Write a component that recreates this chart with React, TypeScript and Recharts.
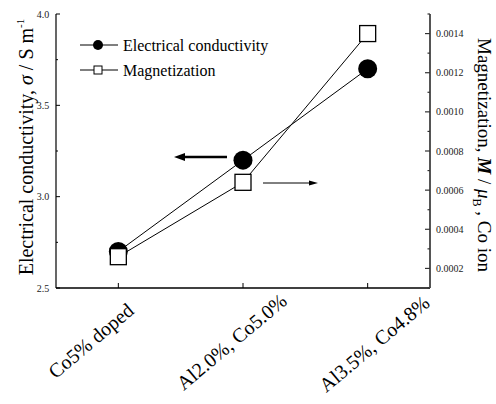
import { Legend, Line, LineChart, XAxis, YAxis } from "recharts";

const categories = ["Co5% doped", "Al2.0%, Co5.0%", "Al3.5%, Co4.8%"];
const conductivity = [2.7, 3.2, 3.7];
const magnetization = [0.00026, 0.00064, 0.0014];

const sigmaTicks = [2.5, 2.75, 3.0, 3.25, 3.5, 3.75, 4.0];
const sigmaLabels = [2.5, 3.0, 3.5, 4.0];
const magTicks = [
  0.0001, 0.0002, 0.0003, 0.0004, 0.0005, 0.0006, 0.0007, 0.0008,
  0.0009, 0.001, 0.0011, 0.0012, 0.0013, 0.0014, 0.0015
];
const magLabels = [0.0002, 0.0004, 0.0006, 0.0008, 0.001, 0.0012, 0.0014];

const data = categories.map((cat, i) => ({
  cat,
  sigma: conductivity[i],
  mag: magnetization[i]
}));

const FONT = '"Liberation Serif", "Times New Roman", serif';

// centre of each rotated category label, relative to its band centre on the axis
const CAT_LABEL_SHIFT = [
  { dx: -23, dy: 58 },
  { dx: -7, dy: 59 },
  { dx: 11, dy: 61 }
];

const isIn = (list: number[], v: number) => list.some((t) => Math.abs(t - v) < 1e-9);

function SigmaTick(props: any) {
  const { x, y, payload } = props;
  const major = isIn(sigmaLabels, payload.value);
  return (
    <g>
      <line x1={x} x2={x + (major ? 4 : 2)} y1={y} y2={y} stroke="#000" strokeWidth={1} />
      {major && (
        <text x={x - 13} y={y + 3.5} textAnchor="middle" fontSize={10} fontFamily={FONT} fill="#222">
          {Number(payload.value).toFixed(1)}
        </text>
      )}
    </g>
  );
}

function MagTick(props: any) {
  const { x, y, payload } = props;
  const major = isIn(magLabels, payload.value);
  return (
    <g>
      <line x1={x} x2={x - (major ? 5 : 2.5)} y1={y} y2={y} stroke="#333" strokeWidth={1.2} />
      {major && (
        <text x={x + 6} y={y + 3.5} fontSize={10} fontFamily={FONT} fill="#222">
          {Number(payload.value).toFixed(4)}
        </text>
      )}
    </g>
  );
}

function CatTick(props: any) {
  const { x, y } = props;
  return <line x1={x} x2={x} y1={y} y2={y - 5} stroke="#000" strokeWidth={1} />;
}

// rotated category names, laid out on the band centres of the x axis
function CatLabels(props: any) {
  const vb = props.viewBox || { x: 56, y: 288, width: 374, height: 116 };
  const band = vb.width / categories.length;
  return (
    <g>
      {categories.map((c, i) => {
        const s = CAT_LABEL_SHIFT[i];
        const tx = vb.x + band * (i + 0.5) + s.dx;
        const ty = vb.y + s.dy;
        return (
          <text
            key={c}
            x={tx}
            y={ty}
            textAnchor="middle"
            transform={`rotate(-40, ${tx}, ${ty})`}
            fontSize={20}
            fontFamily={FONT}
            fill="#000"
          >
            {c}
          </text>
        );
      })}
    </g>
  );
}

function TopTick(props: any) {
  const { x, y } = props;
  return <line x1={x} x2={x} y1={y} y2={y + 2} stroke="#555" strokeWidth={1} />;
}

function LeftTitle(props: any) {
  const vb = props.viewBox || { x: 0, y: 14, width: 56, height: 274 };
  const cx = vb.x + 33;
  const cy = vb.y + vb.height / 2 - 4;
  return (
    <text
      x={cx}
      y={cy}
      textAnchor="middle"
      transform={`rotate(-90, ${cx}, ${cy})`}
      fontSize={20}
      fontFamily={FONT}
      fill="#000"
    >
      Electrical conductivity, <tspan fontStyle="italic">σ</tspan> / S m
      <tspan fontSize={11} dy={-9}>-1</tspan>
    </text>
  );
}

function RightTitle(props: any) {
  const vb = props.viewBox || { x: 430, y: 14, width: 66, height: 274 };
  const cx = vb.x + 48;
  const cy = vb.y + vb.height / 2 + 4;
  return (
    <text
      x={cx}
      y={cy}
      textAnchor="middle"
      transform={`rotate(90, ${cx}, ${cy})`}
      fontSize={19}
      fontFamily={FONT}
      fill="#000"
    >
      Magnetization, <tspan fontWeight="bold" fontStyle="italic">M</tspan> /{" "}
      <tspan fontStyle="italic">μ</tspan>
      <tspan fontSize={12} dy={5}>B</tspan>
      <tspan dy={-5}> , Co ion</tspan>
    </text>
  );
}

function CircleDot(props: any) {
  const { cx, cy, index } = props;
  return <circle key={`c${index}`} cx={cx} cy={cy} r={9.5} fill="#000" />;
}

function SquareDot(props: any) {
  const { cx, cy, index } = props;
  return (
    <rect
      key={`s${index}`}
      x={cx - 8}
      y={cy - 8}
      width={16}
      height={16}
      fill="#fff"
      stroke="#000"
      strokeWidth={1.3}
    />
  );
}

function LegendBox() {
  return (
    <svg width={240} height={52}>
      <line x1={10} x2={48} y1={15} y2={15} stroke="#000" strokeWidth={1} />
      <circle cx={28} cy={15} r={5} fill="#000" />
      <text x={53} y={20.5} fontSize={16} fontFamily={FONT} fill="#000">
        Electrical conductivity
      </text>
      <line x1={10} x2={48} y1={40} y2={40} stroke="#000" strokeWidth={1} />
      <rect x={24} y={36} width={8} height={8} fill="#fff" stroke="#000" strokeWidth={1} />
      <text x={53} y={45.5} fontSize={16} fontFamily={FONT} fill="#000">
        Magnetization
      </text>
    </svg>
  );
}

export default function App() {
  return (
    <div style={{ position: "absolute", left: 0, top: 0, width: 496, height: 404, background: "#fff" }}>
      <LineChart width={496} height={404} data={data} margin={{ top: 14, right: 0, bottom: 0, left: 0 }}>
        <XAxis
          dataKey="cat"
          scale="band"
          height={116}
          interval={0}
          tickSize={0}
          tickMargin={0}
          tickLine={false}
          tick={CatTick}
          axisLine={{ stroke: "#000", strokeWidth: 1.4 }}
          label={CatLabels}
        />
        <XAxis
          xAxisId="top"
          dataKey="cat"
          scale="band"
          orientation="top"
          height={0}
          interval={0}
          tickSize={0}
          tickMargin={0}
          tickLine={false}
          tick={TopTick}
          axisLine={{ stroke: "#555", strokeWidth: 1.5 }}
        />
        <YAxis
          yAxisId="sigma"
          type="number"
          domain={[2.5, 4]}
          ticks={sigmaTicks}
          interval={0}
          width={56}
          tickSize={0}
          tickMargin={0}
          tickLine={false}
          tick={SigmaTick}
          axisLine={{ stroke: "#000", strokeWidth: 1.2 }}
          label={LeftTitle}
        />
        <YAxis
          yAxisId="mag"
          orientation="right"
          type="number"
          domain={[0.0001, 0.0015]}
          ticks={magTicks}
          interval={0}
          width={66}
          tickSize={0}
          tickMargin={0}
          tickLine={false}
          tick={MagTick}
          axisLine={{ stroke: "#555", strokeWidth: 2 }}
          label={RightTitle}
        />
        <Legend
          layout="horizontal"
          verticalAlign="middle"
          align="center"
          content={LegendBox}
          wrapperStyle={{ position: "absolute", left: 70, top: 30, width: 240, height: 52 }}
        />
        <Line
          yAxisId="sigma"
          dataKey="sigma"
          name="Electrical conductivity"
          stroke="#000"
          strokeWidth={1}
          dot={CircleDot}
          activeDot={false}
          isAnimationActive={false}
        />
        <Line
          yAxisId="mag"
          dataKey="mag"
          name="Magnetization"
          stroke="#000"
          strokeWidth={1}
          dot={SquareDot}
          activeDot={false}
          isAnimationActive={false}
        />
      </LineChart>
      <svg
        width={496}
        height={404}
        style={{ position: "absolute", left: 0, top: 0, pointerEvents: "none" }}
      >
        <line x1={227} y1={157} x2={183} y2={157} stroke="#000" strokeWidth={2.5} />
        <polygon points="174,157 185,153 185,161" fill="#000" />
        <line x1={263} y1={183} x2={310} y2={183} stroke="#000" strokeWidth={1} />
        <polygon points="318,183 309,180.5 309,185.5" fill="#000" />
      </svg>
    </div>
  );
}
